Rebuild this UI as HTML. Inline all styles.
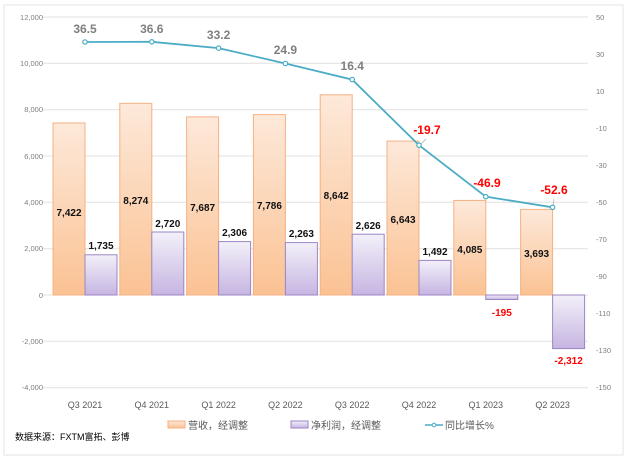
<!DOCTYPE html>
<html><head><meta charset="utf-8"><style>
body{margin:0;background:#fff}
svg{display:block;font-family:"Liberation Sans","Noto Sans CJK SC",sans-serif}
</style></head><body>
<svg width="635" height="465" viewBox="0 0 635 465">
<defs>
<linearGradient id="og" x1="0" y1="0" x2="0" y2="1"><stop offset="0" stop-color="#fde9da"/><stop offset="1" stop-color="#fbc293"/></linearGradient>
<linearGradient id="pg" x1="0" y1="0" x2="0" y2="1"><stop offset="0" stop-color="#f3f0f9"/><stop offset="1" stop-color="#c6b5e2"/></linearGradient>
</defs>
<rect x="4" y="5" width="619" height="450" fill="#fff" stroke="#e3e3e3"/>
<g stroke="#e0e0e0" stroke-width="1">
<line x1="42" x2="588" y1="17" y2="17"/><line x1="42" x2="588" y1="63.3" y2="63.3"/><line x1="42" x2="588" y1="109.7" y2="109.7"/><line x1="42" x2="588" y1="156" y2="156"/><line x1="42" x2="588" y1="202.3" y2="202.3"/><line x1="42" x2="588" y1="248.7" y2="248.7"/><line x1="42" x2="588" y1="295" y2="295"/><line x1="42" x2="588" y1="341.3" y2="341.3"/><line x1="42" x2="588" y1="387.7" y2="387.7"/>
</g>
<g font-size="7.5" fill="#7f7f7f" text-anchor="end">
<text x="43" y="20">12,000</text><text x="43" y="66">10,000</text><text x="43" y="112">8,000</text><text x="43" y="159">6,000</text><text x="43" y="205">4,000</text><text x="43" y="251">2,000</text><text x="43" y="298">0</text><text x="43" y="344">-2,000</text><text x="43" y="390">-4,000</text>
</g>
<g font-size="7.5" fill="#7f7f7f" text-anchor="start">
<text x="596" y="20">50</text><text x="596" y="57">30</text><text x="596" y="94">10</text><text x="596" y="131">-10</text><text x="596" y="168">-30</text><text x="596" y="205">-50</text><text x="596" y="242">-70</text><text x="596" y="279">-90</text><text x="596" y="316">-110</text><text x="596" y="353">-130</text><text x="596" y="390">-150</text>
</g>
<g stroke="#f4b183" stroke-width="1" fill="url(#og)">
<rect x="53" y="123" width="32" height="172"/>
<rect x="119.8" y="103.3" width="32" height="191.7"/>
<rect x="186.6" y="116.9" width="32" height="178.1"/>
<rect x="253.4" y="114.6" width="32" height="180.4"/>
<rect x="320.2" y="94.8" width="32" height="200.2"/>
<rect x="387" y="141.1" width="32" height="153.9"/>
<rect x="453.8" y="200.4" width="32" height="94.6"/>
<rect x="520.6" y="209.4" width="32" height="85.6"/>
</g>
<g stroke="#9c85c4" stroke-width="1" fill="url(#pg)">
<rect x="85" y="254.8" width="32" height="40.2"/>
<rect x="151.8" y="232" width="32" height="63"/>
<rect x="218.6" y="241.6" width="32" height="53.4"/>
<rect x="285.4" y="242.6" width="32" height="52.4"/>
<rect x="352.2" y="234.2" width="32" height="60.8"/>
<rect x="419" y="260.4" width="32" height="34.6"/>
<rect x="485.8" y="295" width="32" height="4.5"/>
<rect x="552.6" y="295" width="32" height="53.6"/>
</g>
<g font-size="10" font-weight="bold" fill="#111" text-anchor="middle">
<text x="69" y="216">7,422</text><text x="135.8" y="204">8,274</text><text x="202.6" y="211">7,687</text><text x="269.4" y="209">7,786</text><text x="336.2" y="199">8,642</text><text x="403" y="223">6,643</text><text x="469.8" y="253">4,085</text><text x="536.6" y="257">3,693</text>
<text x="101" y="249">1,735</text><text x="167.8" y="227">2,720</text><text x="234.6" y="236">2,306</text><text x="301.4" y="237">2,263</text><text x="368.2" y="229">2,626</text><text x="435" y="255">1,492</text>
</g>
<g font-size="10" font-weight="bold" fill="#ff0000" text-anchor="middle">
<text x="501.8" y="316">-195</text><text x="568.6" y="364">-2,312</text>
</g>
<line x1="419" y1="146" x2="426" y2="139" stroke="#aaa" stroke-width="0.7"/>
<line x1="553" y1="207" x2="554" y2="199" stroke="#aaa" stroke-width="0.7"/>
<polyline fill="none" stroke="#4bacc6" stroke-width="1.8" points="85,42 151.8,41.8 218.6,48.1 285.4,63.5 352.2,79.6 419,145.2 485.8,196.7 552.6,207.3"/>
<g fill="#fff" stroke="#4bacc6" stroke-width="1.2">
<circle cx="85" cy="42" r="2.2"/><circle cx="151.8" cy="41.8" r="2.2"/><circle cx="218.6" cy="48.1" r="2.2"/><circle cx="285.4" cy="63.5" r="2.2"/><circle cx="352.2" cy="79.6" r="2.2"/><circle cx="419" cy="145.2" r="2.2"/><circle cx="485.8" cy="196.7" r="2.2"/><circle cx="552.6" cy="207.3" r="2.2"/>
</g>
<g font-size="12" font-weight="bold" fill="#7f7f7f" text-anchor="middle">
<text x="85" y="33">36.5</text><text x="151.8" y="33">36.6</text><text x="218.6" y="39">33.2</text><text x="285.4" y="54">24.9</text><text x="352.2" y="70">16.4</text>
</g>
<g font-size="12" font-weight="bold" fill="#ff0000" text-anchor="middle">
<text x="427" y="134">-19.7</text><text x="487" y="187">-46.9</text><text x="554" y="194">-52.6</text>
</g>
<g font-size="9" fill="#595959" text-anchor="middle">
<text x="85" y="408">Q3 2021</text><text x="151.8" y="408">Q4 2021</text><text x="218.6" y="408">Q1 2022</text><text x="285.4" y="408">Q2 2022</text><text x="352.2" y="408">Q3 2022</text><text x="419" y="408">Q4 2022</text><text x="485.8" y="408">Q1 2023</text><text x="552.6" y="408">Q2 2023</text>
</g>
<rect x="168" y="421" width="17" height="7" fill="url(#og)" stroke="#f4b183"/>
<text x="188" y="429" font-size="10" fill="#595959">营收，经调整</text>
<rect x="291" y="421" width="17" height="7" fill="url(#pg)" stroke="#9c85c4"/>
<text x="311" y="429" font-size="10" fill="#595959">净利润，经调整</text>
<line x1="425" y1="425" x2="443" y2="425" stroke="#4bacc6" stroke-width="1.5"/>
<circle cx="434" cy="425" r="1.8" fill="#fff" stroke="#4bacc6"/>
<text x="445" y="429" font-size="10" fill="#595959">同比增长%</text>
<text x="15" y="440" font-size="9" fill="#000">数据来源：FXTM富拓、彭博</text>
</svg>
</body></html>
